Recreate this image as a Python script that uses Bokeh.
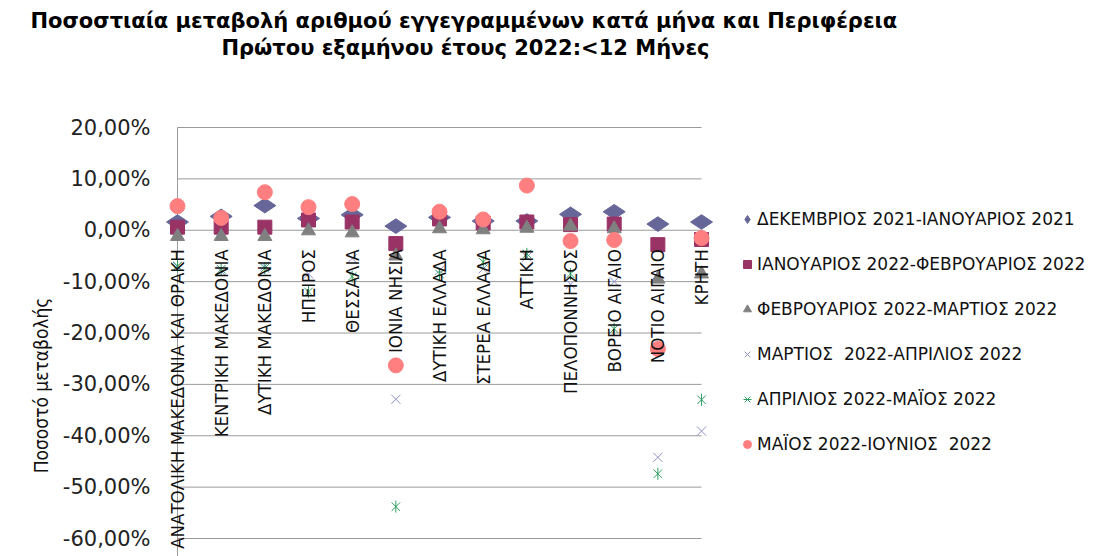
import math
from bokeh.plotting import figure
from bokeh.models import Range1d, Legend, LegendItem, Label
from bokeh.core.properties import value
from bokeh.embed import file_html
from bokeh.resources import INLINE

# ---------------- data ----------------
title_line1 = "Ποσοστιαία μεταβολή αριθμού εγγεγραμμένων  κατά μήνα και Περιφέρεια"
title_line2 = "Πρώτου εξαμήνου έτους 2022:<12 Μήνες"
y_label = "Ποσοστό μεταβολής"

categories = [
    "ΑΝΑΤΟΛΙΚΗ ΜΑΚΕΔΟΝΙΑ ΚΑΙ ΘΡΑΚΗ", "ΚΕΝΤΡΙΚΗ ΜΑΚΕΔΟΝΙΑ", "ΔΥΤΙΚΗ ΜΑΚΕΔΟΝΙΑ",
    "ΗΠΕΙΡΟΣ", "ΘΕΣΣΑΛΙΑ", "ΙΟΝΙΑ ΝΗΣΙΑ", "ΔΥΤΙΚΗ ΕΛΛΑΔΑ", "ΣΤΕΡΕΑ ΕΛΛΑΔΑ",
    "ΑΤΤΙΚΗ", "ΠΕΛΟΠΟΝΝΗΣΟΣ", "ΒΟΡΕΙΟ ΑΙΓΑΙΟ", "ΝΟΤΙΟ ΑΙΓΑΙΟ", "ΚΡΗΤΗ",
]

series_names = [
    "ΔΕΚΕΜΒΡΙΟΣ 2021-ΙΑΝΟΥΑΡΙΟΣ 2021",
    "ΙΑΝΟΥΑΡΙΟΣ 2022-ΦΕΒΡΟΥΑΡΙΟΣ 2022",
    "ΦΕΒΡΟΥΑΡΙΟΣ 2022-ΜΑΡΤΙΟΣ 2022",
    "ΜΑΡΤΙΟΣ  2022-ΑΠΡΙΛΙΟΣ 2022",
    "ΑΠΡΙΛΙΟΣ 2022-ΜΑΪΟΣ 2022",
    "ΜΑΪΟΣ 2022-ΙΟΥΝΙΟΣ  2022",
]

# values in percent
dec_jan = [1.6, 2.7, 4.8, 2.3, 3.0, 0.8, 2.5, 1.8, 1.8, 3.1, 3.6, 1.2, 1.6]
jan_feb = [0.6, 0.6, 0.6, 2.0, 1.6, -2.6, 2.2, 1.4, 1.6, 1.1, 1.2, -2.8, -1.8]
feb_mar = [-1.2, -1.2, -1.2, -0.1, -0.5, -5.0, 0.3, 0.1, 0.4, 0.8, 0.3, -9.5, -8.5]
mar_apr = [-7.0, -8.0, -7.0, -8.5, -5.5, -32.9, -7.8, -7.5, -5.2, -10.5, -10.0, -44.2, -39.1]
apr_may = [-7.0, -7.6, -7.4, -12.0, -9.0, -53.8, -8.5, -6.2, -4.6, -8.5, -19.2, -47.4, -33.0]
may_jun = [4.7, 2.4, 7.4, 4.5, 5.1, -26.3, 3.6, 2.1, 8.7, -2.1, -1.9, -23.1, -1.5]

tick_values = [20, 10, 0, -10, -20, -30, -40, -50, -60]
tick_labels = ["20,00%", "10,00%", "0,00%", "-10,00%", "-20,00%",
               "-30,00%", "-40,00%", "-50,00%", "-60,00%"]

# ---------------- layout / styling ----------------
W, H = 1115, 556
AXIS_X_PX = 177        # pixel column of the first category (value axis)
ZERO_Y_PX = 229.75     # pixel row of 0 %
PX_PER_CAT = 43.67
PX_PER_PCT = 5.1375

C_DEC = "#666699"
C_JAN = "#993366"
C_FEB = "#808080"
C_MAR = "#8f8fc9"
C_APR = "#2e9e60"
C_MAY = "#ff7f80"
GRID = "#9a9a9a"
NARROW = "Liberation Sans Narrow, DejaVu Sans Condensed, Roboto"

n = len(categories)
idx = list(range(n))

x_start = -AXIS_X_PX / PX_PER_CAT
x_end = (W - AXIS_X_PX) / PX_PER_CAT
y_end = ZERO_Y_PX / PX_PER_PCT
y_start = -(H - ZERO_Y_PX) / PX_PER_PCT

p = figure(
    width=W, height=H,
    output_backend="svg", toolbar_location=None,
    title=None,
    x_range=Range1d(x_start, x_end),
    y_range=Range1d(y_start, y_end),
    x_axis_location=None, y_axis_location=None,
    min_border=0,
)
p.outline_line_color = None
p.grid.visible = False
p.background_fill_color = "white"
p.border_fill_color = "white"

# gridlines at the tick values, spanning first..last category
p.segment(x0=[idx[0]] * len(tick_values), x1=[idx[-1]] * len(tick_values),
          y0=tick_values, y1=tick_values, line_color=GRID, line_width=1)
# value axis line at the first category
p.segment(x0=[idx[0]], x1=[idx[0]], y0=[tick_values[0]], y1=[y_start],
          line_color=GRID, line_width=1)

# value-axis tick labels
p.text(x=[idx[0]] * len(tick_values), y=tick_values, text=tick_labels,
       x_offset=-27, text_align="right", text_baseline="middle",
       text_font=value("DejaVu Sans"), text_font_size="21px", text_color="#222222")

r_dec = p.scatter(x=idx, y=dec_jan, marker="diamond", angle=math.pi / 2, size=22,
                  fill_color=C_DEC, line_color=C_DEC)
r_jan = p.scatter(x=idx, y=jan_feb, marker="square", size=14,
                  fill_color=C_JAN, line_color=C_JAN)
r_feb = p.scatter(x=idx, y=feb_mar, marker="triangle", size=14,
                  fill_color=C_FEB, line_color=C_FEB)
r_mar = p.scatter(x=idx, y=mar_apr, marker="x", size=13,
                  line_color=C_MAR, line_width=1)
r_apr1 = p.scatter(x=idx, y=apr_may, marker="x", size=12,
                   line_color=C_APR, line_width=1)
r_apr2 = p.scatter(x=idx, y=apr_may, marker="dash", angle=math.pi / 2, size=12,
                   line_color=C_APR, line_width=1)
r_may = p.scatter(x=idx, y=may_jun, marker="circle", size=15,
                  fill_color=C_MAY, line_color=C_MAY)

# category labels hanging below the zero line
p.text(x=idx, y=[0] * n, text=categories, angle=math.pi / 2,
       text_align="right", text_baseline="middle", y_offset=19,
       text_font=value(NARROW), text_font_size="18.5px", text_color="#111111")

# titles and axis title (screen units from the bottom-left of the canvas)
for txt, cx, cy in [(title_line1, 467, 20), (title_line2, 465, 47)]:
    p.add_layout(Label(x=cx, y=H - cy, x_units="screen", y_units="screen",
                       text=txt, text_align="center", text_baseline="middle",
                       text_font="DejaVu Sans", text_font_size="21px",
                       text_font_style="bold", text_color="#000000"))
p.add_layout(Label(x=40, y=H - 385, x_units="screen", y_units="screen",
                   text=y_label, angle=math.pi / 2,
                   text_align="center", text_baseline="middle",
                   text_font=NARROW, text_font_size="19px", text_color="#111111"))

legend = Legend(
    items=[
        LegendItem(label=series_names[0], renderers=[r_dec]),
        LegendItem(label=series_names[1], renderers=[r_jan]),
        LegendItem(label=series_names[2], renderers=[r_feb]),
        LegendItem(label=series_names[3], renderers=[r_mar]),
        LegendItem(label=series_names[4], renderers=[r_apr1, r_apr2]),
        LegendItem(label=series_names[5], renderers=[r_may]),
    ],
    location=(737, 102), margin=0, padding=0,
    glyph_width=20, glyph_height=20, label_height=20, spacing=25,
    label_standoff=0,
    label_text_font="DejaVu Sans", label_text_font_size="17px",
    label_text_color="#111111",
    border_line_color=None, background_fill_alpha=0,
)
p.add_layout(legend, "center")

open("out.html", "w").write(file_html(p, INLINE))
